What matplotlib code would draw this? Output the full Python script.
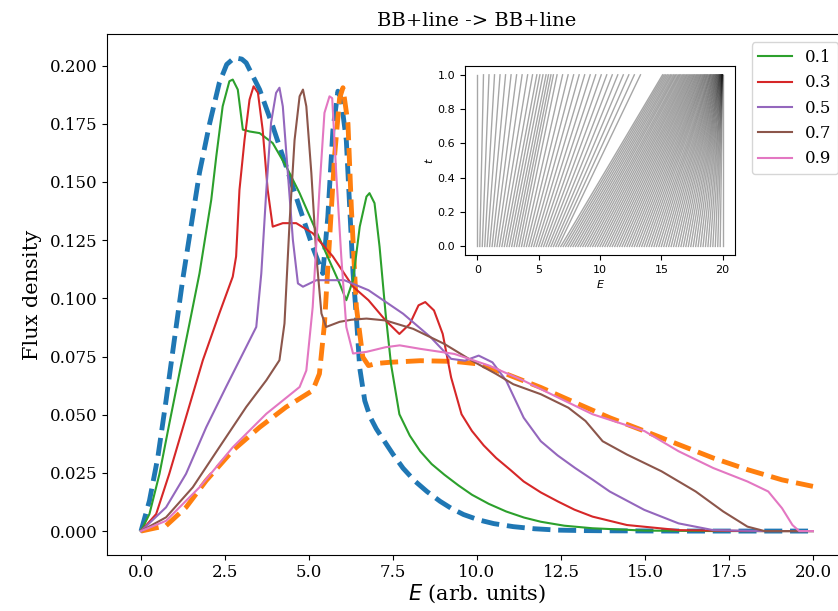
import numpy as np
import matplotlib
matplotlib.use("Agg")
import matplotlib.pyplot as plt

# ---------------- data ----------------
E_blue = [0, 0.25, 0.50, 0.745, 0.99, 1.24, 1.49, 1.74, 2.04, 2.33, 2.55, 2.78, 3.0, 3.13, 3.53,
          3.92, 4.32, 4.72, 5.11, 5.41, 5.56, 5.71, 5.86, 5.95, 6.11, 6.31, 6.41, 6.51, 6.66,
          6.82, 7.0, 7.18, 7.5, 7.8, 8.15, 8.51, 8.9, 9.23, 9.6, 10.05, 10.5, 11.08, 11.7,
          12.41, 13.2, 14.0, 16.0, 18.0, 20.0]
F_blue = [0, 0.013, 0.0317, 0.0561, 0.082, 0.108, 0.131, 0.154, 0.175, 0.1926, 0.2005, 0.2034,
          0.2028, 0.2012, 0.1897, 0.174, 0.1567, 0.139, 0.122, 0.1107, 0.135, 0.172, 0.189,
          0.186, 0.168, 0.111, 0.092, 0.0700, 0.056, 0.049, 0.044, 0.040, 0.033, 0.027, 0.0215,
          0.017, 0.0128, 0.0098, 0.0071, 0.0048, 0.0032, 0.0019, 0.0010, 0.0004, 0.0002, 0.0001,
          0.0, 0.0, 0.0]

E_orange = [0, 0.745, 1.34, 1.94, 2.73, 3.53, 4.32, 5.11, 5.31, 5.46, 5.61, 5.76, 5.91, 6.01,
            6.16, 6.26, 6.41, 6.6, 6.77, 7.0, 7.39, 8.31, 9.33, 10.05, 10.87, 11.9, 12.92,
            13.95, 14.98, 16.0, 17.03, 18.05, 19.08, 20.0]
F_orange = [0, 0.0023, 0.0102, 0.0217, 0.0346, 0.0446, 0.0533, 0.0604, 0.0676, 0.089, 0.125,
            0.161, 0.186, 0.1905, 0.175, 0.139, 0.0963, 0.0748, 0.0711, 0.072, 0.0725, 0.0732,
            0.0729, 0.0718, 0.0675, 0.0617, 0.0552, 0.0487, 0.043, 0.0372, 0.0314, 0.0264,
            0.022, 0.0192]

E_g01 = [0, 0.25, 0.55, 0.84, 1.14, 1.44, 1.74, 2.09, 2.24, 2.43, 2.63, 2.73, 2.88, 3.03, 3.23,
         3.53, 3.92, 4.32, 4.72, 5.11, 5.51, 5.91, 6.11, 6.31, 6.51, 6.71, 6.8, 6.95, 7.1, 7.28,
         7.44, 7.69, 8.0, 8.31, 8.65, 9.03, 9.45, 9.85, 10.35, 10.87, 11.4, 11.9, 12.6, 13.44,
         14.98, 17.0, 20.0]
F_g01 = [0, 0.0073, 0.0246, 0.046, 0.0676, 0.089, 0.1107, 0.1423, 0.161, 0.1825, 0.1933, 0.194,
         0.1897, 0.1725, 0.1717, 0.171, 0.1667, 0.1567, 0.1452, 0.1323, 0.1193, 0.1064, 0.0992,
         0.1078, 0.1308, 0.1437, 0.1452, 0.1409, 0.1222, 0.0934, 0.0718, 0.0502, 0.0410,
         0.0343, 0.0288, 0.0242, 0.0196, 0.0156, 0.0117, 0.0084, 0.0058, 0.004, 0.0023, 0.0012,
         0.0002, 0.0, 0.0]

E_g03 = [0, 0.45, 0.84, 1.34, 1.84, 2.33, 2.73, 2.83, 2.93, 3.08, 3.23, 3.35, 3.48, 3.62, 3.77,
         3.92, 4.22, 4.62, 5.11, 5.71, 6.31, 6.77, 7.28, 7.69, 8.0, 8.26, 8.46, 8.72, 8.98, 9.23,
         9.54, 9.85, 10.2, 10.57, 11.0, 11.39, 11.9, 12.41, 12.9, 13.44, 14.46, 16.0, 18.0, 20.0]
F_g03 = [0, 0.0073, 0.0246, 0.049, 0.0734, 0.0935, 0.1093, 0.118, 0.1466, 0.168, 0.1854, 0.1911,
         0.1883, 0.1725, 0.1466, 0.1308, 0.1323, 0.1323, 0.128, 0.118, 0.105, 0.0992, 0.0905,
         0.0847, 0.089, 0.097, 0.0984, 0.0948, 0.0847, 0.066, 0.0502, 0.043, 0.0368, 0.0314,
         0.0262, 0.0213, 0.0166, 0.0127, 0.0092, 0.0062, 0.0026, 0.0004, 0.0, 0.0]

E_g05 = [0, 0.745, 1.34, 1.94, 2.53, 3.13, 3.43, 3.58, 3.73, 3.87, 4.02, 4.12, 4.22, 4.37, 4.52,
         4.67, 4.82, 5.22, 5.71, 6.05, 6.77, 7.8, 8.62, 9.23, 9.64, 10.05, 10.46, 10.87, 11.39,
         11.9, 12.4, 12.92, 13.45, 13.95, 14.98, 16.0, 17.03, 18.5, 20.0]
F_g05 = [0, 0.0102, 0.0246, 0.0446, 0.0619, 0.0791, 0.0877, 0.1107, 0.1466, 0.1754, 0.1883,
         0.1905, 0.1825, 0.1538, 0.1251, 0.1064, 0.105, 0.1078, 0.1078, 0.1078, 0.1035, 0.0934,
         0.0833, 0.074, 0.0732, 0.0754, 0.0725, 0.0646, 0.0487, 0.0386, 0.0325, 0.0271, 0.022,
         0.017, 0.0091, 0.0033, 0.0004, 0.0, 0.0]

E_g07 = [0, 0.745, 1.54, 2.33, 3.13, 3.73, 4.12, 4.27, 4.42, 4.57, 4.72, 4.82, 4.92, 5.07, 5.22,
         5.37, 5.51, 5.91, 6.26, 6.71, 7.28, 8.1, 9.03, 9.85, 10.57, 11.08, 11.9, 12.72, 13.23,
         13.74, 14.46, 15.49, 16.51, 17.33, 18.05, 18.56, 20.0]
F_g07 = [0, 0.0059, 0.0188, 0.036, 0.0533, 0.0648, 0.0734, 0.0892, 0.1323, 0.168, 0.1868,
         0.1897, 0.1825, 0.1538, 0.118, 0.0935, 0.0877, 0.0899, 0.0908, 0.0913, 0.0905, 0.0869,
         0.0804, 0.0732, 0.0675, 0.0631, 0.0588, 0.053, 0.0473, 0.0386, 0.0329, 0.0257, 0.017,
         0.0084, 0.0019, 0.0, 0.0]

E_g09 = [0, 0.745, 1.74, 2.73, 3.73, 4.72, 4.92, 5.11, 5.31, 5.46, 5.61, 5.69, 5.81, 5.96, 6.11,
         6.31, 6.71, 7.28, 7.7, 8.31, 9.33, 10.36, 11.39, 12.41, 13.44, 14.98, 16.0, 17.03,
         18.05, 18.67, 19.08, 19.39, 19.59, 20.0]
F_g09 = [0, 0.0044, 0.0188, 0.036, 0.0504, 0.0619, 0.069, 0.0963, 0.1466, 0.1797, 0.1868, 0.186,
         0.1538, 0.118, 0.0877, 0.0763, 0.077, 0.079, 0.0798, 0.0783, 0.0761, 0.0711, 0.0646,
         0.0574, 0.0502, 0.043, 0.0343, 0.0271, 0.0213, 0.017, 0.0098, 0.0026, 0.0, 0.0]

legend_labels = ["0.1", "0.3", "0.5", "0.7", "0.9"]

# inset: energy of each ray at t=0 and at t=1
E_t0 = [0.0, 0.2, 0.4, 0.6, 0.8, 1.0, 1.2, 1.4, 1.6, 1.8, 2.0, 2.2, 2.4, 2.6, 2.8, 3.0, 3.2,
        3.4, 3.6, 3.8, 4.0, 4.2, 4.4, 4.6, 4.8, 5.0, 5.2, 5.4, 5.6, 5.8, 6.0, 6.2, 6.4, 6.6,
        6.8, 7.0, 7.2, 7.4, 7.6, 7.8, 8.0, 8.2, 8.4, 8.6, 8.8, 9.0, 9.2, 9.4, 9.6, 9.8, 10.0,
        10.2, 10.4, 10.6, 10.8, 11.0, 11.2, 11.4, 11.6, 11.8, 12.0, 12.2, 12.4, 12.6, 12.8,
        13.0, 13.2, 13.4, 13.6, 13.8, 14.0, 14.2, 14.4, 14.6, 14.8, 15.0, 15.2, 15.4, 15.6,
        15.8, 16.0, 16.2, 16.4, 16.6, 16.8, 17.0, 17.2, 17.4, 17.6, 17.8, 18.0, 18.2, 18.4,
        18.6, 18.8, 19.0, 19.2, 19.4, 19.6, 19.8, 20.0]
E_t1 = [0.0, 0.5, 0.95, 1.4, 1.85, 2.3, 2.75, 3.2, 3.65, 4.1, 4.5, 4.85, 5.1, 5.35, 5.6, 5.8,
        6.0, 6.2, 6.5, 6.95, 7.4, 7.85, 8.3, 8.75, 9.2, 9.65, 10.1, 10.55, 11.0, 11.45, 11.9,
        12.35, 12.8, 13.3, 15.1, 15.23, 15.36, 15.49, 15.62, 15.75, 15.87, 16.0, 16.12, 16.23,
        16.36, 16.47, 16.58, 16.7, 16.81, 16.92, 17.03, 17.13, 17.24, 17.34, 17.44, 17.54,
        17.64, 17.73, 17.83, 17.92, 18.01, 18.1, 18.19, 18.27, 18.36, 18.44, 18.52, 18.59,
        18.67, 18.74, 18.81, 18.89, 18.96, 19.02, 19.08, 19.15, 19.21, 19.27, 19.32, 19.38,
        19.43, 19.48, 19.53, 19.57, 19.62, 19.66, 19.7, 19.74, 19.77, 19.8, 19.83, 19.86,
        19.89, 19.91, 19.94, 19.95, 19.97, 19.98, 19.99, 20.0, 20.0]
t_ends = [0.0, 1.0]

# ---------------- figure ----------------
serif = ["DejaVu Serif"]
fig = plt.figure(figsize=(8.38, 6.11), dpi=100)
ax = fig.add_axes([0.1282, 0.0921, 0.882, 0.8522])

ax.plot(E_blue, F_blue, ls="--", color="C0", lw=3.5)
ax.plot(E_orange, F_orange, ls="--", color="C1", lw=3.5)
series = [(E_g01, F_g01, "C2"), (E_g03, F_g03, "C3"), (E_g05, F_g05, "C4"),
          (E_g07, F_g07, "C5"), (E_g09, F_g09, "C6")]
handles = []
for (e, f, c), lab in zip(series, legend_labels):
    h, = ax.plot(e, f, color=c, lw=1.5, label=lab)
    handles.append(h)

ax.set_xticks([0, 2.5, 5, 7.5, 10, 12.5, 15, 17.5, 20])
ax.set_xticklabels(["0.0", "2.5", "5.0", "7.5", "10.0", "12.5", "15.0", "17.5", "20.0"],
                   family=serif, fontsize=12)
ax.set_yticks([0, 0.025, 0.05, 0.075, 0.1, 0.125, 0.15, 0.175, 0.2])
ax.set_yticklabels(["0.000", "0.025", "0.050", "0.075", "0.100", "0.125", "0.150", "0.175",
                    "0.200"], family=serif, fontsize=12)
ax.set_xlabel(r"$E$ (arb. units)", family=serif, fontsize=15, labelpad=1)
ax.set_ylabel("Flux density", family=serif, fontsize=15, labelpad=6)
ax.set_title("BB+line -> BB+line", family=serif, fontsize=14, pad=6)
ax.legend(handles=handles, loc="upper right", prop={"family": serif, "size": 12})

# inset
ins = fig.add_axes([0.555, 0.5826, 0.322, 0.309])
for a, b in zip(E_t0, E_t1):
    ins.plot([a, b], t_ends, color="black", lw=1.0, alpha=0.35)
ins.set_xticks([0, 5, 10, 15, 20])
ins.set_yticks([0, 0.2, 0.4, 0.6, 0.8, 1.0])
ins.tick_params(labelsize=8)
ins.set_xlabel(r"$E$", fontsize=8, labelpad=2)
ins.set_ylabel(r"$t$", fontsize=8, labelpad=2)

fig.savefig("out.png", dpi=100)
